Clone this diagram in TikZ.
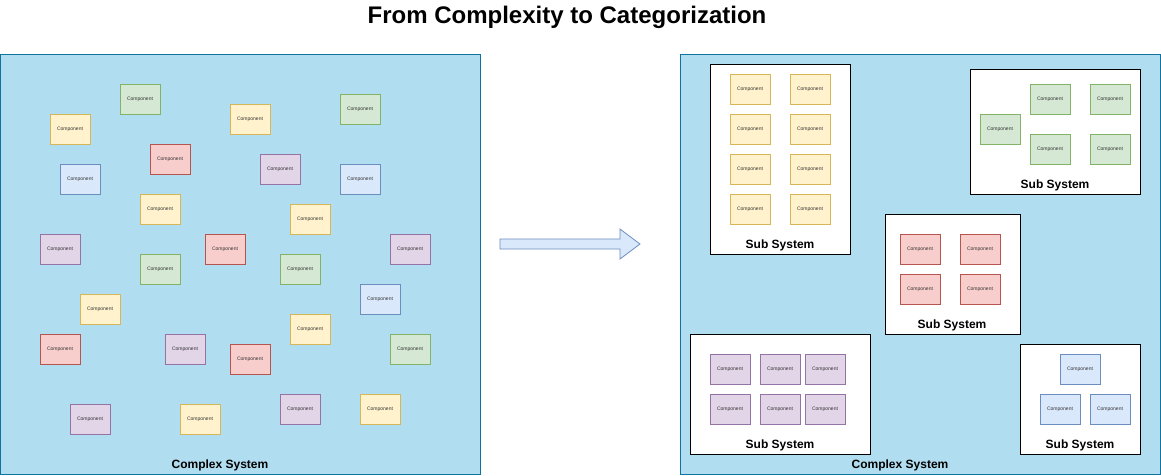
\documentclass[tikz,border=0pt]{standalone}
\usepackage{fontspec}
\setmainfont{Liberation Sans}
\usepackage{tikz}

\definecolor{panelfill}{HTML}{B1DDF0}
\definecolor{panelline}{HTML}{10739E}
\definecolor{ylwfill}{HTML}{FFF2CC}
\definecolor{ylwline}{HTML}{D6B656}
\definecolor{grnfill}{HTML}{D5E8D4}
\definecolor{grnline}{HTML}{82B366}
\definecolor{redfill}{HTML}{F8CECC}
\definecolor{redline}{HTML}{B85450}
\definecolor{prpfill}{HTML}{E1D5E7}
\definecolor{prpline}{HTML}{9673A6}
\definecolor{blufill}{HTML}{DAE8FC}
\definecolor{bluline}{HTML}{6C8EBF}
\definecolor{textgray}{HTML}{333333}

\tikzset{
  comp/.style={line width=1pt, minimum width=40pt, minimum height=30pt,
    inner sep=0pt, text depth=0pt, text=textgray, font=\fontsize{5}{6}\selectfont},
  ylw/.style={comp, fill=ylwfill, draw=ylwline},
  grn/.style={comp, fill=grnfill, draw=grnline},
  red/.style={comp, fill=redfill, draw=redline},
  prp/.style={comp, fill=prpfill, draw=prpline},
  blu/.style={comp, fill=blufill, draw=bluline},
  panel/.style={draw=panelline, fill=panelfill, line width=1pt,
    minimum width=480pt, minimum height=420pt, inner sep=0pt},
  subsys/.style={draw=black, fill=white, line width=1pt, inner sep=0pt},
  boldlbl/.style={inner sep=0pt, font=\bfseries\fontsize{12}{14}\selectfont},
}

\begin{document}
\begin{tikzpicture}[x=1pt,y=-1pt]
		\useasboundingbox (0,0) rectangle (1161,475);
		% title
		\node[inner sep=0pt, anchor=base, font=\bfseries\fontsize{24}{28}\selectfont] (title) at (567,23) {From Complexity to Categorization};
		% panels
		\node[panel] (before) at (240,264) {};
		\node[panel] (after) at (920,264) {};
		\node[boldlbl] (beforelbl) at (220,465.5) {Complex System};
		\node[boldlbl] (afterlbl) at (900,465.5) {Complex System};
		% scattered components
		\foreach \cx/\cy/\c [count=\i] in {140/99/grn, 70/129/ylw, 250/119/ylw, 360/109/grn,
			170/159/red, 280/169/prp, 80/179/blu, 360/179/blu, 160/209/ylw, 310/219/ylw,
			60/249/prp, 225/249/red, 410/249/prp, 160/269/grn, 300/269/grn, 380/299/blu,
			100/309/ylw, 310/329/ylw, 60/349/red, 185/349/prp, 250/359/red, 410/349/grn,
			90/419/prp, 200/419/ylw, 300/409/prp, 380/409/ylw}
			\node[\c] (L\i) at (\cx,\cy) {Component};
		% arrow
		\draw[fill=blufill, draw=bluline, line width=0.8pt] (500,239) -- (620,239) -- (620,229) -- (640,244)
			-- (620,259) -- (620,249) -- (500,249) -- cycle;
		% sub systems
		\draw[subsys] (710,64) rectangle (850,254);
		\draw[subsys] (970,69) rectangle (1140,194);
		\draw[subsys] (885,214) rectangle (1020,334);
		\draw[subsys] (690,334) rectangle (870,454);
		\draw[subsys] (1020,344) rectangle (1140,454);
		\node[boldlbl] (ylwlbl) at (780,245.5) {Sub System};
		\node[boldlbl] (grnlbl) at (1055,185.5) {Sub System};
		\node[boldlbl] (redlbl) at (952,325.5) {Sub System};
		\node[boldlbl] (prplbl) at (780,445.5) {Sub System};
		\node[boldlbl] (blulbl) at (1080,445.5) {Sub System};
		% grouped components
		\foreach \cx in {750,810}
			\foreach \cy in {89,129,169,209}
				\node[ylw] (Y\cx\cy) at (\cx,\cy) {Component};
		\foreach \cx/\cy [count=\i] in {1000/129, 1050/99, 1110/99, 1050/149, 1110/149}
			\node[grn] (G\i) at (\cx,\cy) {Component};
		\foreach \cx in {920,980}
			\foreach \cy in {249,289}
				\node[red] (R\cx\cy) at (\cx,\cy) {Component};
		\foreach \cx in {730,780,825}
			\foreach \cy in {369,409}
				\node[prp] (P\cx\cy) at (\cx,\cy) {Component};
		\foreach \cx/\cy [count=\i] in {1080/369, 1060/409, 1110/409}
			\node[blu] (B\i) at (\cx,\cy) {Component};
\end{tikzpicture}
\end{document}
